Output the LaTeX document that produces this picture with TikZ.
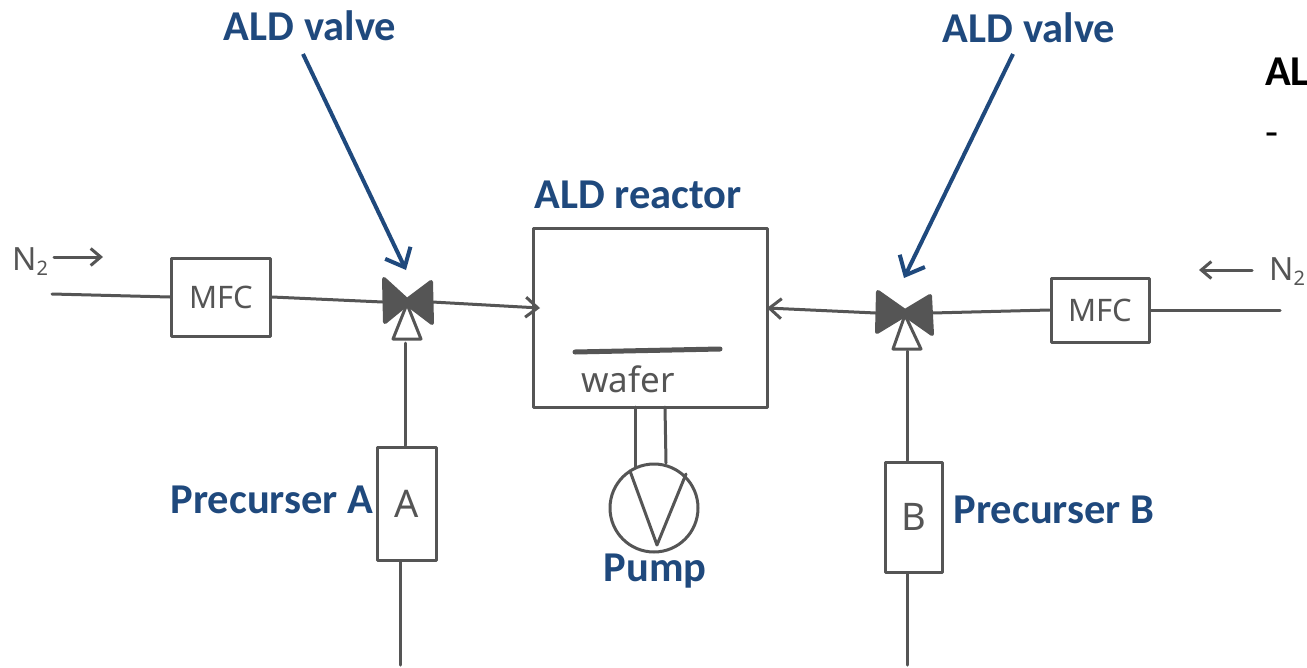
\documentclass[tikz,border=0pt]{standalone}
\usepackage{fontspec}
\setmainfont{Carlito}
\newfontfamily\handfont{Noto Sans}
\usetikzlibrary{arrows.meta}
\definecolor{pen}{HTML}{555555}
\definecolor{labelblue}{HTML}{1F497D}
\tikzset{
  x=1pt,y=-1pt,
  pen line/.style={draw=pen,line width=3pt,line cap=round,line join=round},
  pen arrow/.style={pen line,-{Straight Barb[length=12pt,width=20pt,line width=3pt]}},
  hand box/.style={pen line,inner sep=0pt,font=\handfont\fontsize{#1}{#1}\selectfont,text=pen},
  hand box/.default=31,
  hand text/.style={inner sep=0pt,text=pen,font=\handfont\fontsize{#1}{#1}\selectfont},
  hand text/.default=35,
  label text/.style={inner sep=0pt,text=labelblue,font=\bfseries\fontsize{42.5}{42.5}\selectfont},
  black text/.style={inner sep=0pt,text=black,font=\bfseries\fontsize{42.5}{42.5}\selectfont},
  call arrow/.style={draw=labelblue,line width=4pt,-{Straight Barb[length=16pt,width=28pt,line width=4pt]}},
  valve spot/.style={minimum width=#1,minimum height=30pt,inner sep=0pt},
  bow/.style={fill=pen,draw=pen,line width=4pt,line join=round},
  tri/.style={fill=white,draw=pen,line width=3pt,line join=round}
}
\begin{document}
\begin{tikzpicture}
\useasboundingbox (0,0) rectangle (1307,667);
\clip (0,0) rectangle (1307,667);
\fill[white] (0,0) rectangle (1307,667);

% boxes
\node[hand box,minimum width=99pt,minimum height=78pt] (mfcL) at (221,297) {MFC};
\node[hand box,minimum width=98pt,minimum height=64pt] (mfcR) at (1100,310) {MFC};
\node[pen line,minimum width=234pt,minimum height=179pt] (reactor) at (650,317.5) {};
\node[hand box=38,minimum width=59pt,minimum height=113pt] (precA) at (407,503.5) {A};
\node[hand box=38,minimum width=57pt,minimum height=110pt] (precB) at (913.5,517) {B};
\node[pen line,circle,minimum size=88pt,inner sep=0pt] (pump) at (654,508) {};

% valves
\node[valve spot=49pt] (valveL) at (407.5,302) {};
\node[valve spot=56pt] (valveR) at (904,313) {};
\draw[bow] (384,279)--(407,300)--(431,282)--(432,323)--(407,304)--(385,322)--cycle;
\draw[bow] (878,292)--(905,311)--(930,296)--(932,334)--(905,315)--(877,332)--cycle;
\draw[tri] (407,304)--(393,339)--(421,339)--cycle;
\draw[tri] (905,315)--(893,349)--(921,349)--cycle;
\coordinate (triL) at (405,343);
\coordinate (triR) at (907,351);

% free ends
\coordinate (inL) at (52,294);
\coordinate (inR) at (1280,310);
\coordinate (wallL) at (540,308);
\coordinate (wallR) at (767,308);
\coordinate (bottomA) at (400,665);
\coordinate (bottomB) at (907,665);
\coordinate (tubeLtop) at (635,407);
\coordinate (tubeLbot) at (635,467);
\coordinate (tubeRtop) at (665,407);
\coordinate (tubeRbot) at (666,463);
\coordinate (waferA) at (575,352);
\coordinate (waferB) at (720,349);
\coordinate (vA) at (630,471);
\coordinate (vB) at (657,545);
\coordinate (vC) at (686,474);
\coordinate (n2La) at (54,257);
\coordinate (n2Lb) at (103,257);
\coordinate (n2Ra) at (1252,270);
\coordinate (n2Rb) at (1199,270);

% connectors
\draw[pen line] (inL) -- (mfcL.west);
\draw[pen line] (mfcL.east) -- (valveL.west);
\draw[pen arrow] (valveL.east) -- (wallL);
\draw[pen arrow] (valveR.west) -- (wallR);
\draw[pen line] (mfcR.west) -- (valveR.east);
\draw[pen line] (mfcR.east) -- (inR);
\draw[pen line] (triL) -- (precA.north -| triL);
\draw[pen line] (precA.south -| bottomA) -- (bottomA);
\draw[pen line] (triR) -- (precB.north -| triR);
\draw[pen line] (precB.south -| bottomB) -- (bottomB);
\draw[pen line] (tubeLtop) -- (tubeLbot);
\draw[pen line] (tubeRtop) -- (tubeRbot);
\draw[pen line] (vA) -- (vB) -- (vC);
\draw[pen line,line width=5pt] (waferA) -- (waferB);
\draw[pen arrow,-{Straight Barb[length=10pt,width=17pt,line width=3pt]}] (n2La) -- (n2Lb);
\draw[pen arrow,-{Straight Barb[length=10pt,width=17pt,line width=3pt]}] (n2Ra) -- (n2Rb);

% handwritten texts
\node[hand text] (wafer) at (628,379) {wafer};
\node[hand text=32,anchor=west] (n2L) at (12,262) {N\raisebox{-5pt}{\fontsize{20}{20}\selectfont 2}};
\node[hand text=32,anchor=west] (n2R) at (1269,272) {N\raisebox{-5pt}{\fontsize{20}{20}\selectfont 2}};

% blue labels
\node[label text] (ald1) at (310,26) {ALD valve};
\node[label text] (ald2) at (1029,28) {ALD valve};
\node[label text] (reactorlabel) at (638,195) {ALD reactor};
\node[label text] (labA) at (272,500) {Precurser A};
\node[label text] (labB) at (1054,510) {Precurser B};
\node[label text] (labP) at (655,571) {Pump};
\coordinate (ald1end) at (303,54);
\coordinate (ald2end) at (1013,54);
\coordinate (valveLtop) at (406,270);
\coordinate (valveRtop) at (904,278);
\draw[call arrow] (ald1end) -- (valveLtop);
\draw[call arrow] (ald2end) -- (valveRtop);

% cropped text at right
\node[black text,anchor=west] (alcut) at (1265,72) {AL};
\node[inner sep=0pt,font=\fontsize{42.5}{42.5}\selectfont,anchor=west] (dash) at (1265,140) {-};
\end{tikzpicture}
\end{document}
